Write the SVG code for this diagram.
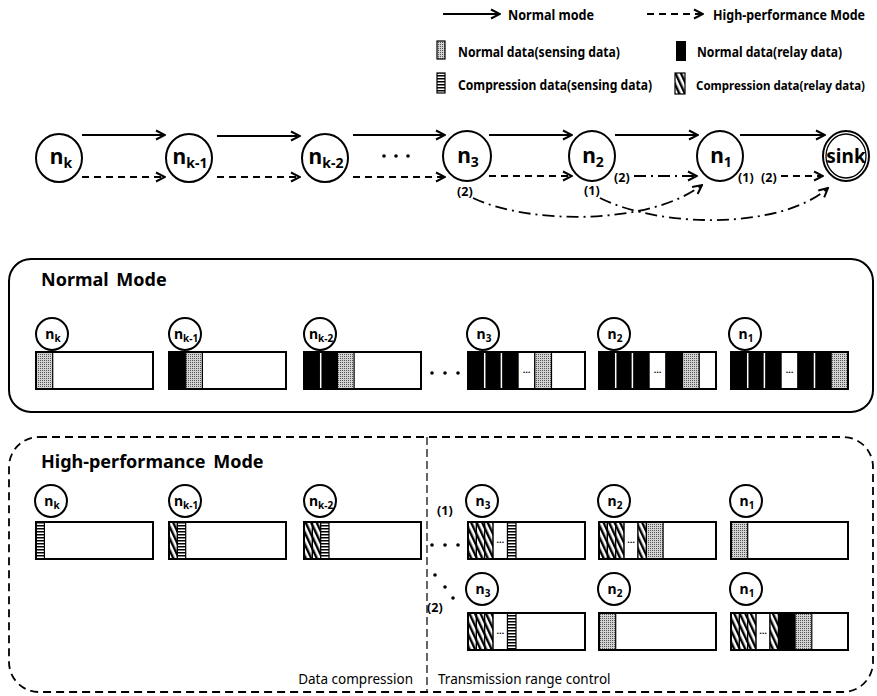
<svg xmlns="http://www.w3.org/2000/svg" width="877" height="696" viewBox="0 0 877 696">
<style>
text{font-family:"Noto Sans","Liberation Sans",sans-serif;fill:#000}
.lg{font-size:13.5px;font-weight:bold}
.title{font-size:18px;font-weight:bold;word-spacing:3px}
.big{font-size:21px;font-weight:bold}
.sm{font-size:14px;font-weight:bold}
.lbl{font-size:12.5px;font-weight:bold}
.cap{font-size:13.5px}
.nd{fill:#fff;stroke:#000;stroke-width:2}
.bar{fill:#fff;stroke:none}
.out{fill:none;stroke:#000;stroke-width:2}
.blk{fill:#000}
.sep{stroke:#fff;stroke-width:1.5}
.dt{fill:url(#dots);stroke:#000;stroke-width:1.2}
.hs{fill:url(#hstripe);stroke:#000;stroke-width:1.2}
.ht{fill:url(#hatch);stroke:#000;stroke-width:1.2}
.wc{fill:#fff;stroke:#000;stroke-width:1.2}
.el{font-size:9px;font-weight:bold}
.sol{fill:none;stroke:#000;stroke-width:2;marker-end:url(#ah)}
.dsh{fill:none;stroke:#000;stroke-width:2;stroke-dasharray:7 5;marker-end:url(#ah)}
.dd{fill:none;stroke:#000;stroke-width:1.8;stroke-dasharray:12 5 2 5;marker-end:url(#ah)}
</style>
<defs>
<marker id="ah" viewBox="0 0 12 12" refX="11" refY="6" markerWidth="12" markerHeight="12" markerUnits="userSpaceOnUse" orient="auto">
<path d="M2,1.5 L11,6 L2,10.5" fill="none" stroke="#000" stroke-width="2"/>
</marker>
<pattern id="dots" width="2" height="2" patternUnits="userSpaceOnUse">
<rect width="2" height="2" fill="#d2d2d2"/><rect width="1" height="1" fill="#555"/>
</pattern>
<pattern id="hstripe" width="4" height="3" patternUnits="userSpaceOnUse">
<rect width="4" height="3" fill="#fff"/><rect width="4" height="1.5" fill="#000"/>
</pattern>
<pattern id="hatch" width="5" height="10" patternUnits="userSpaceOnUse" patternTransform="rotate(-25)">
<rect width="5" height="10" fill="#fff"/><rect width="2.4" height="10" fill="#000"/>
</pattern>
</defs>
<rect width="877" height="696" fill="#fff"/>

<g id="legend">
<line x1="443" y1="14" x2="500" y2="14" class="sol"/>
<text class="lg" x="508" y="20" textLength="86" lengthAdjust="spacingAndGlyphs">Normal mode</text>
<line x1="647" y1="14" x2="703" y2="14" class="dsh"/>
<text class="lg" x="713" y="20" textLength="152" lengthAdjust="spacingAndGlyphs">High-performance Mode</text>
<rect x="437" y="41" width="8" height="18" class="dt"/>
<text class="lg" x="458" y="57" textLength="162" lengthAdjust="spacingAndGlyphs">Normal data(sensing data)</text>
<rect x="676" y="41" width="10" height="20" class="blk"/>
<text class="lg" x="697" y="57" textLength="145" lengthAdjust="spacingAndGlyphs">Normal data(relay data)</text>
<rect x="437" y="73" width="8" height="20" class="hs"/>
<text class="lg" x="458" y="90" textLength="194" lengthAdjust="spacingAndGlyphs">Compression data(sensing data)</text>
<rect x="675" y="73" width="10" height="21" class="ht"/>
<text x="696" y="90" style="font-size:11.5px;font-weight:bold">Compression data(relay data)</text>
</g>

<g id="chain-nk"><ellipse cx="59" cy="158" rx="23" ry="24" class="nd"/><text class="big" x="61" y="164" text-anchor="middle">n<tspan class="sm" dy="4">k</tspan></text></g>
<g id="chain-nk1"><ellipse cx="189" cy="158" rx="23" ry="24" class="nd"/><text class="big" x="190" y="164" text-anchor="middle">n<tspan class="sm" dy="4">k-1</tspan></text></g>
<g id="chain-nk2"><ellipse cx="325" cy="158" rx="23" ry="24" class="nd"/><text class="big" x="326" y="164" text-anchor="middle">n<tspan class="sm" dy="4">k-2</tspan></text></g>
<g id="chain-dots"><circle cx="384" cy="156" r="1.8"/><circle cx="396" cy="156" r="1.8"/><circle cx="408" cy="156" r="1.8"/></g>
<g id="chain-n3"><ellipse cx="467" cy="156" rx="24" ry="25" class="nd"/><text class="big" x="468" y="163" text-anchor="middle">n<tspan class="sm" dy="4">3</tspan></text></g>
<g id="chain-n2"><ellipse cx="592" cy="156" rx="23" ry="25" class="nd"/><text class="big" x="593" y="163" text-anchor="middle">n<tspan class="sm" dy="4">2</tspan></text></g>
<g id="chain-n1"><ellipse cx="720" cy="156" rx="23" ry="25" class="nd"/><text class="big" x="721" y="163" text-anchor="middle">n<tspan class="sm" dy="4">1</tspan></text></g>
<g id="chain-sink"><ellipse cx="846" cy="156" rx="23" ry="25" class="nd"/><ellipse cx="846" cy="156" rx="20" ry="22" fill="none" stroke="#000" stroke-width="1.3"/><text class="big" x="846" y="163" text-anchor="middle" style="font-size:19px">sink</text></g>

<g id="connectors">
<line x1="82" y1="135" x2="165" y2="135" class="sol"/>
<line x1="217" y1="136" x2="300" y2="136" class="sol"/>
<line x1="353" y1="135" x2="445" y2="135" class="sol"/>
<line x1="489" y1="135" x2="572" y2="135" class="sol"/>
<line x1="615" y1="135" x2="698" y2="135" class="sol"/>
<line x1="740" y1="135" x2="825" y2="135" class="sol"/>
<line x1="82" y1="177" x2="165" y2="177" class="dsh"/>
<line x1="217" y1="177" x2="300" y2="177" class="dsh"/>
<line x1="353" y1="177" x2="445" y2="177" class="dsh"/>
<line x1="489" y1="176" x2="572" y2="176" class="dsh"/>
<line x1="634" y1="176" x2="697" y2="176" class="dd"/>
<line x1="781" y1="176" x2="823" y2="176" class="dsh"/>
<path d="M473,198 C530,225 650,225 702,185" class="dd"/>
<path d="M600,198 C660,228 780,230 828,188" class="dd"/>
<text class="lbl" x="614" y="182">(2)</text>
<text class="lbl" x="738" y="182">(1)</text>
<text class="lbl" x="761" y="182">(2)</text>
<text class="lbl" x="457" y="196">(2)</text>
<text class="lbl" x="584" y="195">(1)</text>
</g>

<g id="normal-mode">
<rect x="9" y="259" width="864" height="153" rx="22" fill="none" stroke="#000" stroke-width="2"/>
<text class="title" x="41" y="286">Normal Mode</text>
</g>

<g id="nm-nk">
<circle cx="52" cy="334" r="16" class="nd"/><text class="sm" x="53" y="339" text-anchor="middle">n<tspan style="font-size:10px" dy="3">k</tspan></text>
<rect x="36" y="352" width="117" height="37" class="bar"/>
<rect x="36" y="352" width="16.7" height="37" class="dt"/>
<rect x="36" y="352" width="117" height="37" class="out"/>
</g>
<g id="nm-nk1">
<circle cx="185" cy="334" r="16" class="nd"/><text class="sm" x="186" y="339" text-anchor="middle">n<tspan style="font-size:10px" dy="3">k-1</tspan></text>
<rect x="169" y="352" width="117" height="37" class="bar"/>
<rect x="169" y="352" width="16.7" height="37" class="blk"/>
<rect x="185.7" y="352" width="16.7" height="37" class="dt"/>
<rect x="169" y="352" width="117" height="37" class="out"/>
</g>
<g id="nm-nk2">
<circle cx="320" cy="334" r="16" class="nd"/><text class="sm" x="321" y="339" text-anchor="middle">n<tspan style="font-size:10px" dy="3">k-2</tspan></text>
<rect x="304" y="352" width="117" height="37" class="bar"/>
<rect x="304" y="352" width="33.4" height="37" class="blk"/>
<line x1="320.7" y1="353" x2="320.7" y2="388" class="sep"/>
<rect x="337.4" y="352" width="16.7" height="37" class="dt"/>
<rect x="304" y="352" width="117" height="37" class="out"/>
</g>
<g id="nm-dots"><circle cx="432" cy="373" r="1.8"/><circle cx="445" cy="373" r="1.8"/><circle cx="458" cy="373" r="1.8"/></g>
<g id="nm-n3">
<circle cx="483" cy="334" r="16" class="nd"/><text class="sm" x="484" y="339" text-anchor="middle">n<tspan style="font-size:10px" dy="3">3</tspan></text>
<rect x="468" y="352" width="117" height="37" class="bar"/>
<rect x="468" y="352" width="50.1" height="37" class="blk"/>
<line x1="484.7" y1="353" x2="484.7" y2="388" class="sep"/>
<line x1="501.4" y1="353" x2="501.4" y2="388" class="sep"/>
<rect x="518.1" y="352" width="16.7" height="37" class="wc"/><text class="el" x="526.5" y="373" text-anchor="middle">…</text>
<rect x="534.8" y="352" width="16.7" height="37" class="dt"/>
<rect x="468" y="352" width="117" height="37" class="out"/>
</g>
<g id="nm-n2">
<circle cx="614" cy="334" r="16" class="nd"/><text class="sm" x="615" y="339" text-anchor="middle">n<tspan style="font-size:10px" dy="3">2</tspan></text>
<rect x="599" y="352" width="117" height="37" class="bar"/>
<rect x="599" y="352" width="50.1" height="37" class="blk"/>
<line x1="615.7" y1="353" x2="615.7" y2="388" class="sep"/>
<line x1="632.4" y1="353" x2="632.4" y2="388" class="sep"/>
<rect x="649.1" y="352" width="16.7" height="37" class="wc"/><text class="el" x="657.5" y="373" text-anchor="middle">…</text>
<rect x="665.8" y="352" width="16.7" height="37" class="blk"/>
<rect x="682.5" y="352" width="16.7" height="37" class="dt"/>
<rect x="599" y="352" width="117" height="37" class="out"/>
</g>
<g id="nm-n1">
<circle cx="745" cy="334" r="16" class="nd"/><text class="sm" x="746" y="339" text-anchor="middle">n<tspan style="font-size:10px" dy="3">1</tspan></text>
<rect x="731" y="352" width="117" height="37" class="bar"/>
<rect x="731" y="352" width="50.1" height="37" class="blk"/>
<line x1="747.7" y1="353" x2="747.7" y2="388" class="sep"/>
<line x1="764.4" y1="353" x2="764.4" y2="388" class="sep"/>
<rect x="781.1" y="352" width="16.7" height="37" class="wc"/><text class="el" x="789.5" y="373" text-anchor="middle">…</text>
<rect x="797.8" y="352" width="33.4" height="37" class="blk"/>
<line x1="814.5" y1="353" x2="814.5" y2="388" class="sep"/>
<rect x="831.2" y="352" width="16.8" height="37" class="dt"/>
<rect x="731" y="352" width="117" height="37" class="out"/>
</g>

<g id="hp-mode">
<rect x="9" y="437" width="864" height="255" rx="30" fill="none" stroke="#000" stroke-width="1.8" stroke-dasharray="8 5"/>
<line x1="427" y1="437" x2="427" y2="692" stroke="#000" stroke-width="1.2" stroke-dasharray="8 4"/>
<text class="title" x="41" y="468">High-performance Mode</text>
<text class="cap" x="413" y="684" text-anchor="end">Data compression</text>
<text class="cap" x="438" y="684">Transmission range control</text>
</g>

<g id="hp-nk">
<circle cx="51" cy="501" r="16" class="nd"/><text class="sm" x="52" y="506" text-anchor="middle">n<tspan style="font-size:10px" dy="3">k</tspan></text>
<rect x="36" y="522" width="117" height="37" class="bar"/>
<rect x="36" y="522" width="8.4" height="37" class="hs"/>
<rect x="36" y="522" width="117" height="37" class="out"/>
</g>
<g id="hp-nk1">
<circle cx="185" cy="501" r="16" class="nd"/><text class="sm" x="186" y="506" text-anchor="middle">n<tspan style="font-size:10px" dy="3">k-1</tspan></text>
<rect x="169" y="522" width="117" height="37" class="bar"/>
<rect x="169" y="522" width="8.4" height="37" class="ht"/>
<rect x="177.4" y="522" width="8.3" height="37" class="hs"/>
<rect x="169" y="522" width="117" height="37" class="out"/>
</g>
<g id="hp-nk2">
<circle cx="320" cy="501" r="16" class="nd"/><text class="sm" x="321" y="506" text-anchor="middle">n<tspan style="font-size:10px" dy="3">k-2</tspan></text>
<rect x="304" y="522" width="117" height="37" class="bar"/>
<rect x="304" y="522" width="8.4" height="37" class="ht"/>
<rect x="312.4" y="522" width="8.3" height="37" class="ht"/>
<rect x="320.7" y="522" width="8.3" height="37" class="hs"/>
<rect x="304" y="522" width="117" height="37" class="out"/>
</g>
<g id="hp-path1">
<text class="lbl" x="437" y="515">(1)</text>
<circle cx="432" cy="545" r="1.8"/><circle cx="445" cy="545" r="1.8"/><circle cx="458" cy="545" r="1.8"/>
</g>
<g id="hp1-n3">
<circle cx="482" cy="501" r="16" class="nd"/><text class="sm" x="483" y="506" text-anchor="middle">n<tspan style="font-size:10px" dy="3">3</tspan></text>
<rect x="468" y="522" width="117" height="37" class="bar"/>
<rect x="468" y="522" width="8.4" height="37" class="ht"/>
<rect x="476.4" y="522" width="8.3" height="37" class="ht"/>
<rect x="484.7" y="522" width="8.4" height="37" class="ht"/>
<rect x="493.1" y="522" width="14.4" height="37" class="wc"/><text class="el" x="500.3" y="543" text-anchor="middle">…</text>
<rect x="507.5" y="522" width="8.5" height="37" class="hs"/>
<rect x="468" y="522" width="117" height="37" class="out"/>
</g>
<g id="hp1-n2">
<circle cx="614" cy="501" r="16" class="nd"/><text class="sm" x="615" y="506" text-anchor="middle">n<tspan style="font-size:10px" dy="3">2</tspan></text>
<rect x="599" y="522" width="117" height="37" class="bar"/>
<rect x="599" y="522" width="8.4" height="37" class="ht"/>
<rect x="607.4" y="522" width="8.3" height="37" class="ht"/>
<rect x="615.7" y="522" width="8.4" height="37" class="ht"/>
<rect x="624.1" y="522" width="13.9" height="37" class="wc"/><text class="el" x="631" y="543" text-anchor="middle">…</text>
<rect x="638" y="522" width="8.4" height="37" class="ht"/>
<rect x="646.4" y="522" width="16.7" height="37" class="dt"/>
<rect x="599" y="522" width="117" height="37" class="out"/>
</g>
<g id="hp1-n1">
<circle cx="746" cy="501" r="16" class="nd"/><text class="sm" x="747" y="506" text-anchor="middle">n<tspan style="font-size:10px" dy="3">1</tspan></text>
<rect x="731" y="522" width="117" height="37" class="bar"/>
<rect x="731" y="522" width="16.7" height="37" class="dt"/>
<rect x="731" y="522" width="117" height="37" class="out"/>
</g>
<g id="hp-path2">
<circle cx="435" cy="575" r="1.8"/><circle cx="445" cy="587" r="1.8"/><circle cx="453" cy="598" r="1.8"/>
<text class="lbl" x="427" y="612">(2)</text>
</g>
<g id="hp2-n3">
<circle cx="482" cy="589" r="16" class="nd"/><text class="sm" x="483" y="594" text-anchor="middle">n<tspan style="font-size:10px" dy="3">3</tspan></text>
<rect x="468" y="613" width="117" height="37" class="bar"/>
<rect x="468" y="613" width="8.4" height="37" class="ht"/>
<rect x="476.4" y="613" width="8.3" height="37" class="ht"/>
<rect x="484.7" y="613" width="8.4" height="37" class="ht"/>
<rect x="493.1" y="613" width="14.4" height="37" class="wc"/><text class="el" x="500.3" y="634" text-anchor="middle">…</text>
<rect x="507.5" y="613" width="8.5" height="37" class="hs"/>
<rect x="468" y="613" width="117" height="37" class="out"/>
</g>
<g id="hp2-n2">
<circle cx="614" cy="589" r="16" class="nd"/><text class="sm" x="615" y="594" text-anchor="middle">n<tspan style="font-size:10px" dy="3">2</tspan></text>
<rect x="599" y="613" width="117" height="37" class="bar"/>
<rect x="599" y="613" width="16.7" height="37" class="dt"/>
<rect x="599" y="613" width="117" height="37" class="out"/>
</g>
<g id="hp2-n1">
<circle cx="746" cy="589" r="16" class="nd"/><text class="sm" x="747" y="594" text-anchor="middle">n<tspan style="font-size:10px" dy="3">1</tspan></text>
<rect x="731" y="613" width="117" height="37" class="bar"/>
<rect x="731" y="613" width="8.4" height="37" class="ht"/>
<rect x="739.4" y="613" width="8.3" height="37" class="ht"/>
<rect x="747.7" y="613" width="8.4" height="37" class="ht"/>
<rect x="756.1" y="613" width="13.9" height="37" class="wc"/><text class="el" x="763" y="634" text-anchor="middle">…</text>
<rect x="770" y="613" width="8.4" height="37" class="ht"/>
<rect x="778.4" y="613" width="16.7" height="37" class="blk"/>
<rect x="795.1" y="613" width="16.7" height="37" class="dt"/>
<rect x="731" y="613" width="117" height="37" class="out"/>
</g>
</svg>
